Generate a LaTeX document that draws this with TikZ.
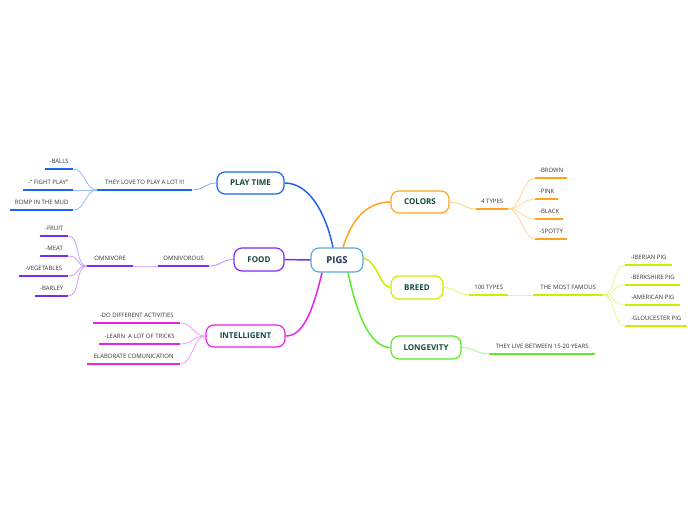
\documentclass[tikz,border=0pt]{standalone}
\usepackage{fontspec}
\setmainfont{Open Sans}
\definecolor{cBlue}{HTML}{1E64F0}
\definecolor{cPurple}{HTML}{7A2CF5}
\definecolor{cMag}{HTML}{E823E8}
\definecolor{cOra}{HTML}{FFA41C}
\definecolor{cYg}{HTML}{C8F000}
\definecolor{cGreen}{HTML}{5EEB2C}
\definecolor{cPigs}{HTML}{5AA8E0}
\definecolor{topictext}{HTML}{0F4A3C}
\definecolor{pigstext}{HTML}{1A2E55}
\definecolor{leaftext}{HTML}{333333}
\tikzset{
  topic/.style={draw=#1, line width=1.2pt, rounded corners=8pt, fill=white, inner sep=0pt,
    minimum height=22pt, font=\fontsize{8}{9}\selectfont\bfseries, text=topictext},
  leaf/.style={inner sep=0pt, anchor=south west, text height=4.3pt, text depth=5.5pt,
    font=\fontsize{6}{7}\selectfont, text=leaftext,
    append after command={(\tikzlastnode.south west) edge[draw=#1, line width=1.8pt] (\tikzlastnode.south east)}},
  mainline/.style={draw=#1, line width=1.5pt},
  subline/.style={draw=#1, line width=0.8pt},
}
\begin{document}
\begin{tikzpicture}[x=1pt,y=-1pt]
\useasboundingbox (0,0) rectangle (696,520);
% central
\node[topic=cPigs, minimum width=52pt, minimum height=24pt, font=\fontsize{9.5}{10}\selectfont\bfseries, text=pigstext] (pigs) at (337,260) {PIGS};
% main topics
\node[topic=cBlue, minimum width=67pt] (play) at (250.5,183) {PLAY TIME};
\node[topic=cPurple, minimum width=50pt, minimum height=23pt] (food) at (259,259.5) {FOOD};
\node[topic=cMag, minimum width=79pt] (intel) at (245.5,336) {INTELLIGENT};
\node[topic=cOra, minimum width=58pt] (colors) at (420,202) {COLORS};
\node[topic=cYg, minimum width=52pt, minimum height=23pt] (breed) at (417,287.5) {BREED};
\node[topic=cGreen, minimum width=70pt, minimum height=23pt] (longev) at (426,347.5) {LONGEVITY};

% main connectors
\draw[mainline=cBlue] ([xshift=-4pt]pigs.north) .. controls (325,210) and (308,183) .. (play.east);
\draw[mainline=cOra] ([xshift=6pt]pigs.north) .. controls (353,215) and (370,202) .. (colors.west);
\draw[mainline=cYg] ([yshift=2pt]pigs.east) .. controls (378,262) and (380,287.5) .. (breed.west);
\draw[mainline=cGreen] ([xshift=11pt]pigs.south) .. controls (358,320) and (372,347.5) .. (longev.west);
\draw[mainline=cMag] ([xshift=-15pt]pigs.south) .. controls (312,315) and (302,336) .. (intel.east);
\draw[mainline=cPurple] (pigs.west) -- (food.east);

% PLAY TIME branch
\node[leaf=cBlue, minimum width=95pt] (lot) at (97,190) {THEY LOVE TO PLAY A LOT !!!};
\node[leaf=cBlue, minimum width=28pt] (balls) at (45,169) {-BALLS};
\node[leaf=cBlue, minimum width=50pt] (fight) at (23,190) {-" FIGHT PLAY"};
\node[leaf=cBlue, minimum width=63pt] (romp) at (10,210) {ROMP IN THE MUD};
\draw[subline=cBlue!55] (play.west) .. controls +(-12,0) and +(12,0) .. (lot.south east);
\foreach \n in {balls,fight,romp}
  \draw[subline=cBlue!45] (lot.south west) .. controls +(-12,0) and +(12,0) .. (\n.south east);

% FOOD branch
\node[leaf=cPurple, minimum width=51pt] (omnivorous) at (158,266) {OMNIVOROUS};
\node[leaf=cPurple, minimum width=46pt] (omnivore) at (87,266) {OMNIVORE};
\node[leaf=cPurple, minimum width=28pt] (fruit) at (40,236) {-FRUIT};
\node[leaf=cPurple, minimum width=28pt] (meat) at (40,256) {-MEAT};
\node[leaf=cPurple, minimum width=49pt] (veg) at (19,276) {-VEGETABLES};
\node[leaf=cPurple, minimum width=33pt] (barley) at (35,296) {-BARLEY};
\draw[subline=cPurple!55] (food.west) .. controls +(-12,0) and +(12,0) .. (omnivorous.south east);
\draw[subline=cPurple!35] (omnivorous.south west) -- (omnivore.south east);
\foreach \n in {fruit,meat,veg,barley}
  \draw[subline=cPurple!45] (omnivore.south west) .. controls +(-12,0) and +(12,0) .. (\n.south east);

% INTELLIGENT branch
\node[leaf=cMag, minimum width=87pt] (doact) at (93,323) {-DO DIFFERENT ACTIVITIES};
\node[leaf=cMag, minimum width=81pt] (learn) at (99,344) {-LEARN \ A LOT OF TRICKS};
\node[leaf=cMag, minimum width=93pt] (elab) at (87,364) {ELABORATE COMUNICATION};
\foreach \n in {doact,learn,elab}
  \draw[subline=cMag!45] (intel.west) .. controls +(-12,0) and +(12,0) .. (\n.south east);

% COLORS branch
\node[leaf=cOra, minimum width=32pt] (types4) at (476,209) {4 TYPES};
\node[leaf=cOra, minimum width=32pt] (brown) at (535,178) {-BROWN};
\node[leaf=cOra, minimum width=23pt] (pink) at (535,199) {-PINK};
\node[leaf=cOra, minimum width=28pt] (black) at (535,219) {-BLACK};
\node[leaf=cOra, minimum width=32pt] (spotty) at (535,239) {-SPOTTY};
\draw[subline=cOra!55] (colors.east) .. controls +(12,0) and +(-12,0) .. (types4.south west);
\foreach \n in {brown,pink,black,spotty}
  \draw[subline=cOra!45] (types4.south east) .. controls +(12,0) and +(-12,0) .. (\n.south west);

% BREED branch
\node[leaf=cYg, minimum width=39pt] (types100) at (469,295) {100 TYPES};
\node[leaf=cYg, minimum width=70pt] (famous) at (533,295) {THE MOST FAMOUS};
\node[leaf=cYg, minimum width=47pt] (iberian) at (625,265) {-IBERIAN PIG};
\node[leaf=cYg, minimum width=55pt] (berk) at (625,285) {-BERKSHIRE PIG};
\node[leaf=cYg, minimum width=55pt] (amer) at (625,305) {-AMERICAN PIG};
\node[leaf=cYg, minimum width=62pt] (glou) at (625,326) {-GLOUCESTER PIG};
\draw[subline=cYg!55] (breed.east) .. controls +(12,0) and +(-12,0) .. (types100.south west);
\draw[subline=cYg!45] (types100.south east) -- (famous.south west);
\foreach \n in {iberian,berk,amer,glou}
  \draw[subline=cYg!45] (famous.south east) .. controls +(12,0) and +(-12,0) .. (\n.south west);

% LONGEVITY branch
\node[leaf=cGreen, minimum width=106pt] (lives) at (489,354) {THEY LIVE BETWEEN 15-20 YEARS};
\draw[subline=cGreen!55] (longev.east) .. controls +(12,0) and +(-12,0) .. (lives.south west);
\end{tikzpicture}
\end{document}
